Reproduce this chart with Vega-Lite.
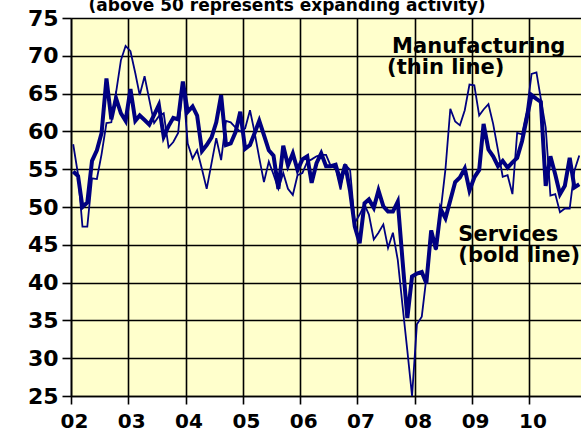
{
  "$schema": "https://vega.github.io/schema/vega-lite/v6.json",
  "width": 510,
  "height": 378,
  "autosize": "none",
  "padding": {"left": 71, "top": 18, "right": 0, "bottom": 39},
  "background": "white",
  "config": {
    "view": {"fill": "#FFFFCC", "stroke": null},
    "font": "DejaVu Sans",
    "axis": {
      "grid": true, "gridColor": "black", "gridWidth": 1.6, "gridOpacity": 1,
      "domainColor": "black", "domainWidth": 1.6,
      "tickColor": "black", "tickWidth": 1.6,
      "labelFont": "DejaVu Sans", "labelFontWeight": "bold", "labelColor": "black",
      "labelFlush": false, "labelOverlap": false, "title": null
    },
    "axisX": {"tickSize": 8, "labelFontSize": 20, "labelPadding": 7, "labelOffset": 3},
    "axisY": {"tickSize": 9, "labelFontSize": 22, "labelPadding": 4}
  },
  "datasets": {
    "pmi": [
      {"date": "2002-01-15", "manufacturing": 58.3, "services": 54.7},
      {"date": "2002-02-15", "manufacturing": 54.3, "services": 54.1},
      {"date": "2002-03-15", "manufacturing": 47.4, "services": 50.0},
      {"date": "2002-04-15", "manufacturing": 47.4, "services": 50.6},
      {"date": "2002-05-15", "manufacturing": 53.8, "services": 56.1},
      {"date": "2002-06-15", "manufacturing": 53.7, "services": 57.5},
      {"date": "2002-07-15", "manufacturing": 57.0, "services": 59.8},
      {"date": "2002-08-15", "manufacturing": 61.1, "services": 67.0},
      {"date": "2002-09-15", "manufacturing": 61.2, "services": 61.6},
      {"date": "2002-10-15", "manufacturing": 65.1, "services": 64.4},
      {"date": "2002-11-15", "manufacturing": 69.4, "services": 62.4},
      {"date": "2002-12-15", "manufacturing": 71.3, "services": 61.4},
      {"date": "2003-01-15", "manufacturing": 70.6, "services": 65.6},
      {"date": "2003-02-15", "manufacturing": 67.7, "services": 61.4},
      {"date": "2003-03-15", "manufacturing": 64.8, "services": 62.1},
      {"date": "2003-04-15", "manufacturing": 67.3, "services": 61.5},
      {"date": "2003-05-15", "manufacturing": 64.2, "services": 60.9},
      {"date": "2003-06-15", "manufacturing": 61.1, "services": 62.2},
      {"date": "2003-07-15", "manufacturing": 62.0, "services": 63.5},
      {"date": "2003-08-15", "manufacturing": 62.4, "services": 59.3},
      {"date": "2003-09-15", "manufacturing": 57.9, "services": 60.7},
      {"date": "2003-10-15", "manufacturing": 58.6, "services": 61.8},
      {"date": "2003-11-15", "manufacturing": 59.8, "services": 61.6},
      {"date": "2003-12-15", "manufacturing": 66.4, "services": 66.6},
      {"date": "2004-01-15", "manufacturing": 58.4, "services": 62.6},
      {"date": "2004-02-15", "manufacturing": 56.4, "services": 63.3},
      {"date": "2004-03-15", "manufacturing": 57.5, "services": 62.1},
      {"date": "2004-04-15", "manufacturing": 55.0, "services": 57.4},
      {"date": "2004-05-15", "manufacturing": 52.4, "services": 58.2},
      {"date": "2004-06-15", "manufacturing": 55.8, "services": 59.2},
      {"date": "2004-07-15", "manufacturing": 59.1, "services": 61.2},
      {"date": "2004-08-15", "manufacturing": 56.2, "services": 64.8},
      {"date": "2004-09-15", "manufacturing": 61.4, "services": 58.2},
      {"date": "2004-10-15", "manufacturing": 61.2, "services": 58.4},
      {"date": "2004-11-15", "manufacturing": 60.5, "services": 59.9},
      {"date": "2004-12-15", "manufacturing": 60.0, "services": 62.6},
      {"date": "2005-01-15", "manufacturing": 60.4, "services": 57.7},
      {"date": "2005-02-15", "manufacturing": 62.8, "services": 58.2},
      {"date": "2005-03-15", "manufacturing": 60.0, "services": 59.7},
      {"date": "2005-04-15", "manufacturing": 56.5, "services": 61.4},
      {"date": "2005-05-15", "manufacturing": 53.3, "services": 59.5},
      {"date": "2005-06-15", "manufacturing": 56.0, "services": 57.5},
      {"date": "2005-07-15", "manufacturing": 54.3, "services": 56.8},
      {"date": "2005-08-15", "manufacturing": 52.4, "services": 52.4},
      {"date": "2005-09-15", "manufacturing": 54.5, "services": 58.1},
      {"date": "2005-10-15", "manufacturing": 52.4, "services": 55.5},
      {"date": "2005-11-15", "manufacturing": 51.6, "services": 57.1},
      {"date": "2005-12-15", "manufacturing": 54.2, "services": 54.9},
      {"date": "2006-01-15", "manufacturing": 54.5, "services": 56.3},
      {"date": "2006-02-15", "manufacturing": 56.0, "services": 56.7},
      {"date": "2006-03-15", "manufacturing": 56.3, "services": 53.2},
      {"date": "2006-04-15", "manufacturing": 56.7, "services": 55.8},
      {"date": "2006-05-15", "manufacturing": 56.9, "services": 57.1},
      {"date": "2006-06-15", "manufacturing": 56.9, "services": 55.4},
      {"date": "2006-07-15", "manufacturing": 55.4, "services": 55.4},
      {"date": "2006-08-15", "manufacturing": 55.1, "services": 55.6},
      {"date": "2006-09-15", "manufacturing": 52.3, "services": 53.4},
      {"date": "2006-10-15", "manufacturing": 55.6, "services": 55.6},
      {"date": "2006-11-15", "manufacturing": 54.9, "services": 52.1},
      {"date": "2006-12-15", "manufacturing": 47.9, "services": 47.4},
      {"date": "2007-01-15", "manufacturing": 49.0, "services": 45.2},
      {"date": "2007-02-15", "manufacturing": 50.3, "services": 50.5},
      {"date": "2007-03-15", "manufacturing": 49.0, "services": 51.0},
      {"date": "2007-04-15", "manufacturing": 45.7, "services": 49.9},
      {"date": "2007-05-15", "manufacturing": 46.6, "services": 52.2},
      {"date": "2007-06-15", "manufacturing": 47.7, "services": 50.1},
      {"date": "2007-07-15", "manufacturing": 44.6, "services": 49.4},
      {"date": "2007-08-15", "manufacturing": 46.6, "services": 49.4},
      {"date": "2007-09-15", "manufacturing": 43.0, "services": 50.7},
      {"date": "2007-10-15", "manufacturing": 37.0, "services": 43.0},
      {"date": "2007-11-15", "manufacturing": 31.0, "services": 35.3},
      {"date": "2007-12-15", "manufacturing": 25.0, "services": 40.8},
      {"date": "2008-01-15", "manufacturing": 34.5, "services": 41.2},
      {"date": "2008-02-15", "manufacturing": 35.5, "services": 41.4},
      {"date": "2008-03-15", "manufacturing": 40.6, "services": 39.9},
      {"date": "2008-04-15", "manufacturing": 46.9, "services": 46.9},
      {"date": "2008-05-15", "manufacturing": 44.3, "services": 44.4},
      {"date": "2008-06-15", "manufacturing": 49.6, "services": 49.7},
      {"date": "2008-07-15", "manufacturing": 55.0, "services": 48.5},
      {"date": "2008-08-15", "manufacturing": 63.0, "services": 50.9},
      {"date": "2008-09-15", "manufacturing": 61.3, "services": 53.3},
      {"date": "2008-10-15", "manufacturing": 60.8, "services": 53.9},
      {"date": "2008-11-15", "manufacturing": 62.8, "services": 55.1},
      {"date": "2008-12-15", "manufacturing": 66.2, "services": 52.2},
      {"date": "2009-01-15", "manufacturing": 66.1, "services": 53.9},
      {"date": "2009-02-15", "manufacturing": 62.1, "services": 54.9},
      {"date": "2009-03-15", "manufacturing": 62.9, "services": 61.0},
      {"date": "2009-04-15", "manufacturing": 63.6, "services": 57.6},
      {"date": "2009-05-15", "manufacturing": 61.0, "services": 56.7},
      {"date": "2009-06-15", "manufacturing": 57.5, "services": 55.4},
      {"date": "2009-07-15", "manufacturing": 54.0, "services": 56.1},
      {"date": "2009-08-15", "manufacturing": 54.2, "services": 55.2},
      {"date": "2009-09-15", "manufacturing": 51.7, "services": 55.9},
      {"date": "2009-10-15", "manufacturing": 59.8, "services": 56.5},
      {"date": "2009-11-15", "manufacturing": 59.6, "services": 58.7},
      {"date": "2009-12-15", "manufacturing": 62.6, "services": 61.7},
      {"date": "2010-01-15", "manufacturing": 67.6, "services": 64.8},
      {"date": "2010-02-15", "manufacturing": 67.8, "services": 64.3},
      {"date": "2010-03-15", "manufacturing": 64.3, "services": 63.9},
      {"date": "2010-04-15", "manufacturing": 60.5, "services": 52.8},
      {"date": "2010-05-15", "manufacturing": 51.5, "services": 56.7},
      {"date": "2010-06-15", "manufacturing": 51.7, "services": 54.3},
      {"date": "2010-07-15", "manufacturing": 49.3, "services": 51.7},
      {"date": "2010-08-15", "manufacturing": 49.8, "services": 52.8},
      {"date": "2010-09-15", "manufacturing": 49.8, "services": 56.5},
      {"date": "2010-10-15", "manufacturing": 54.8, "services": 52.6},
      {"date": "2010-11-15", "manufacturing": 56.8, "services": 53.0}
    ],
    "notes": [
      {"date": "2007-08-10", "value": 70.36, "label": "Manufacturing"},
      {"date": "2007-07-09", "value": 67.62, "label": "(thin line)"},
      {"date": "2008-10-05", "value": 45.54, "label": "Services"},
      {"date": "2008-10-05", "value": 42.76, "label": "(bold line)"}
    ],
    "heading": [
      {"date": "2005-10-09", "value": 75.97, "label": "(above 50 represents expanding activity)"}
    ]
  },
  "encoding": {
    "x": {
      "field": "date", "type": "temporal",
      "scale": {"type": "utc", "domain": [{"year": 2002, "month": 1, "date": 1, "utc": true}, {"year": 2010, "month": 11, "date": 26, "utc": true}]},
      "axis": {
        "values": [
          {"year": 2002, "month": 1, "date": 1, "utc": true},
          {"year": 2003, "month": 1, "date": 1, "utc": true},
          {"year": 2004, "month": 1, "date": 1, "utc": true},
          {"year": 2005, "month": 1, "date": 1, "utc": true},
          {"year": 2006, "month": 1, "date": 1, "utc": true},
          {"year": 2007, "month": 1, "date": 1, "utc": true},
          {"year": 2008, "month": 1, "date": 1, "utc": true},
          {"year": 2009, "month": 1, "date": 1, "utc": true},
          {"year": 2010, "month": 1, "date": 1, "utc": true}
        ],
        "labelExpr": "utcFormat(datum.value, '%y')"
      }
    }
  },
  "layer": [
    {
      "data": {"name": "pmi"},
      "mark": {"type": "line", "color": "#000080", "strokeWidth": 1.8},
      "encoding": {
        "y": {
          "field": "manufacturing", "type": "quantitative",
          "scale": {"domain": [25, 75], "nice": false, "zero": false},
          "axis": {"values": [25, 30, 35, 40, 45, 50, 55, 60, 65, 70, 75]}
        }
      }
    },
    {
      "data": {"name": "pmi"},
      "mark": {"type": "line", "color": "#000080", "strokeWidth": 4},
      "encoding": {
        "y": {"field": "services", "type": "quantitative", "axis": {"values": [25, 30, 35, 40, 45, 50, 55, 60, 65, 70, 75]}}
      }
    },
    {
      "data": {"name": "notes"},
      "mark": {"type": "text", "align": "left", "baseline": "alphabetic", "font": "DejaVu Sans", "fontSize": 21, "fontWeight": "bold", "color": "black"},
      "encoding": {
        "y": {"field": "value", "type": "quantitative", "axis": {"values": [25, 30, 35, 40, 45, 50, 55, 60, 65, 70, 75]}},
        "text": {"field": "label"}
      }
    },
    {
      "data": {"name": "heading"},
      "mark": {"type": "text", "align": "center", "baseline": "alphabetic", "font": "DejaVu Sans", "fontSize": 17, "fontWeight": "bold", "color": "black"},
      "encoding": {
        "y": {"field": "value", "type": "quantitative", "axis": {"values": [25, 30, 35, 40, 45, 50, 55, 60, 65, 70, 75]}},
        "text": {"field": "label"}
      }
    }
  ]
}
